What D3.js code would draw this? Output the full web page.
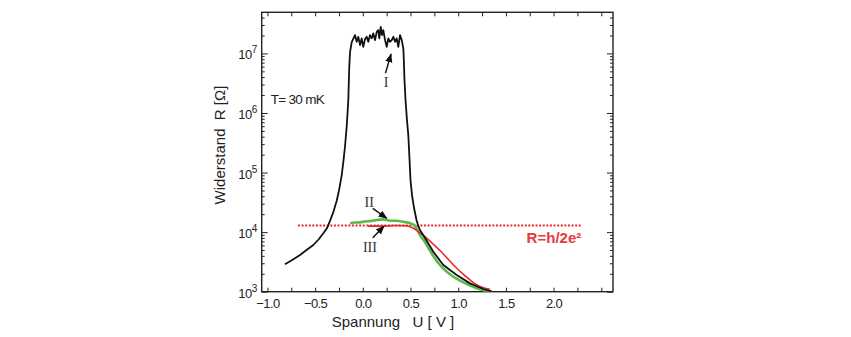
<!DOCTYPE html>
<html>
<head>
<meta charset="utf-8">
<script src="https://cdn.jsdelivr.net/npm/d3@7"></script>
<style>
  body { margin: 0; background: #fff; }
  text { font-family: "Liberation Sans", Arial, sans-serif; }
</style>
</head>
<body>
<div id="chart"></div>
<script>
// curve I: [U (V), R (Ohm)]
var curveI = [
  [-0.816, 2.88e3], [-0.740, 3.40e3], [-0.658, 4.13e3], [-0.590, 5.00e3],
  [-0.519, 6.08e3], [-0.464, 7.52e3], [-0.414, 9.55e3], [-0.375, 1.17e4],
  [-0.344, 1.54e4], [-0.309, 2.17e4], [-0.274, 3.33e4],
  [-0.249, 5.08e4], [-0.221, 9.08e4], [-0.202, 1.62e5], [-0.187, 2.71e5],
  [-0.169, 5.86e5], [-0.152, 1.64e6], [-0.142, 5.96e6], [-0.134, 1.05e7],
  [-0.116, 1.55e7], [-0.082, 2.03e7], [-0.064, 1.57e7], [-0.047, 1.90e7],
  [-0.029, 1.38e7], [-0.012, 1.79e7], [0.005, 1.29e7], [0.023, 1.74e7],
  [0.041, 1.90e7], [0.058, 1.57e7], [0.075, 2.03e7], [0.093, 1.79e7],
  [0.110, 2.17e7], [0.128, 1.67e7], [0.146, 2.30e7], [0.162, 2.46e7],
  [0.173, 1.79e7], [0.188, 2.79e7], [0.201, 2.03e7], [0.215, 2.46e7],
  [0.233, 1.67e7], [0.251, 1.29e7], [0.267, 1.79e7], [0.285, 1.57e7],
  [0.303, 1.67e7], [0.320, 1.90e7], [0.338, 1.57e7], [0.355, 1.79e7],
  [0.372, 1.29e7], [0.390, 2.03e7], [0.408, 1.67e7], [0.425, 1.21e7],
  [0.430, 7.73e6], [0.437, 3.56e6], [0.448, 1.64e6], [0.463, 7.60e5],
  [0.477, 4.26e5], [0.490, 1.62e5], [0.500, 7.48e4], [0.516, 4.19e4],
  [0.537, 2.54e4], [0.563, 1.60e4], [0.582, 1.26e4], [0.600, 1.08e4],
  [0.652, 7.96e3], [0.739, 4.69e3], [0.844, 2.81e3], [0.984, 1.91e3],
  [1.124, 1.38e3], [1.263, 1.11e3], [1.351, 1.01e3]
];

var curveII = [
  [-0.134, 1.41e4], [-0.082, 1.45e4], [-0.029, 1.46e4], [0.023, 1.51e4],
  [0.075, 1.53e4], [0.146, 1.60e4], [0.215, 1.64e4], [0.285, 1.55e4],
  [0.355, 1.55e4], [0.425, 1.49e4], [0.495, 1.41e4], [0.547, 1.28e4],
  [0.565, 1.13e4], [0.600, 8.93e3], [0.652, 6.82e3], [0.704, 4.91e3],
  [0.757, 3.61e3], [0.809, 2.81e3], [0.872, 2.22e3], [0.946, 1.80e3],
  [1.019, 1.54e3], [1.103, 1.32e3], [1.187, 1.15e3], [1.271, 1.05e3],
  [1.355, 0.99e3]
];

var curveIII = [
  [0.054, 1.26e4], [0.180, 1.26e4], [0.338, 1.29e4], [0.442, 1.28e4],
  [0.495, 1.23e4], [0.529, 1.16e4], [0.582, 1.02e4], [0.652, 8.43e3],
  [0.725, 6.56e3], [0.809, 4.91e3], [0.893, 3.54e3], [0.977, 2.55e3],
  [1.061, 1.91e3], [1.145, 1.48e3], [1.229, 1.22e3], [1.292, 1.13e3],
  [1.333, 1.10e3]
];

var quantumR = 12906;          // h/2e^2
var quantumSpan = [-0.68, 2.29];

var xTickLabels = [-1.0, -0.5, 0.0, 0.5, 1.0, 1.5, 2.0];
var xMinorTicks = [-1.0, -0.75, -0.5, -0.25, 0.0, 0.25, 0.5, 0.75, 1.0, 1.25, 1.5, 1.75, 2.0, 2.25, 2.5];
var yDecades = [1e3, 1e4, 1e5, 1e6, 1e7];

// label text, its anchor, arrow tail and head (U, R)
var annotations = [
  { label: "I",   at: [0.243, 2.69e6], from: [0.238, 4.67e6], to: [0.296, 9.73e6] },
  { label: "II",  at: [0.068, 2.67e4], from: [0.104, 2.51e4], to: [0.251, 1.71e4] },
  { label: "III", at: [0.075, 4.58e3], from: [0.104, 8.05e3], to: [0.222, 1.26e4] }
];

var margin = { top: 12.3, left: 261.7 };
var width = 351.3, height = 279.4;

var svg = d3.select("#chart").append("svg")
    .attr("width", 851)
    .attr("height", 337);

svg.append("rect").attr("width", 851).attr("height", 337).attr("fill", "#fff");

var g = svg.append("g")
    .attr("transform", "translate(" + margin.left + "," + margin.top + ")");

var x = d3.scaleLinear()
    .domain([-1.06, 2.623])
    .range([0, width]);

var y = d3.scaleLog()
    .domain([1e3, 4.9e7])
    .range([height, 0]);

svg.append("defs").append("clipPath").attr("id", "plot")
  .append("rect").attr("width", width).attr("height", height);

svg.select("defs").append("marker")
    .attr("id", "arrow")
    .attr("viewBox", "0 0 10 10")
    .attr("refX", 9).attr("refY", 5)
    .attr("markerWidth", 6).attr("markerHeight", 6)
    .attr("orient", "auto")
  .append("path")
    .attr("d", "M0,1 L10,5 L0,9 Z")
    .attr("fill", "#111");

// axes: ticks point inward on all four sides
function styleAxis(sel) {
  sel.select(".domain").remove();
  sel.selectAll(".tick line").attr("stroke", "#222").attr("stroke-width", 1);
}

g.append("g")
    .attr("transform", "translate(0," + height + ")")
    .call(d3.axisBottom(x).tickValues(xMinorTicks).tickSize(-4).tickFormat(""))
    .call(styleAxis);

g.append("g")
    .call(d3.axisTop(x).tickValues(xMinorTicks).tickSize(-4).tickFormat(""))
    .call(styleAxis);

g.append("g")
    .attr("transform", "translate(0," + height + ")")
    .call(d3.axisBottom(x).tickValues(xTickLabels).tickSize(0).tickPadding(7)
      .tickFormat(d3.format(".1f")))
    .call(styleAxis)
    .selectAll("text")
    .attr("font-size", "13px")
    .attr("letter-spacing", "-0.6px")
    .attr("fill", "#222");

var yMinor = y.ticks().filter(function(d) { return yDecades.indexOf(d) < 0; });

g.append("g")
    .call(d3.axisLeft(y).tickValues(yMinor).tickSize(-3).tickFormat(""))
    .call(styleAxis);

g.append("g")
    .attr("transform", "translate(" + width + ",0)")
    .call(d3.axisRight(y).tickValues(yMinor).tickSize(-3).tickFormat(""))
    .call(styleAxis);

g.append("g")
    .attr("transform", "translate(" + width + ",0)")
    .call(d3.axisRight(y).tickValues(yDecades).tickSize(-6).tickFormat(""))
    .call(styleAxis);

g.append("g")
    .call(d3.axisLeft(y).tickValues(yDecades).tickSize(-6).tickPadding(6))
    .call(styleAxis)
    .selectAll("text")
    .attr("font-size", "13px")
    .attr("letter-spacing", "-0.5px")
    .attr("fill", "#222")
    .attr("x", -5)
    .attr("dy", "0.42em")
    .each(function(d) {
      var t = d3.select(this).text("10");
      t.append("tspan")
        .attr("dy", "-0.6em")
        .attr("font-size", "10px")
        .text(Math.round(Math.log10(d)));
    });

// frame
g.append("rect")
    .attr("width", width)
    .attr("height", height)
    .attr("fill", "none")
    .attr("stroke", "#222")
    .attr("stroke-width", 1.4);

var line = d3.line()
    .x(function(d) { return x(d[0]); })
    .y(function(d) { return y(d[1]); });

var smooth = d3.line()
    .curve(d3.curveMonotoneX)
    .x(function(d) { return x(d[0]); })
    .y(function(d) { return y(d[1]); });

var plot = g.append("g").attr("clip-path", "url(#plot)");

plot.append("path")
    .datum([[quantumSpan[0], quantumR], [quantumSpan[1], quantumR]])
    .attr("d", line)
    .attr("fill", "none")
    .attr("stroke", "#e8262b")
    .attr("stroke-width", 2)
    .attr("stroke-dasharray", "2,1.6");

plot.append("path")
    .datum(curveII)
    .attr("d", smooth)
    .attr("fill", "none")
    .attr("stroke", "#5cb947")
    .attr("stroke-width", 2.6)
    .attr("stroke-linejoin", "round");

plot.append("path")
    .datum(curveIII)
    .attr("d", smooth)
    .attr("fill", "none")
    .attr("stroke", "#ea2a2a")
    .attr("stroke-width", 1.6);

plot.append("path")
    .datum(curveI)
    .attr("d", line)
    .attr("fill", "none")
    .attr("stroke", "#111")
    .attr("stroke-width", 1.8)
    .attr("stroke-linejoin", "round");

// annotations
annotations.forEach(function(a) {
  g.append("line")
      .attr("x1", x(a.from[0])).attr("y1", y(a.from[1]))
      .attr("x2", x(a.to[0])).attr("y2", y(a.to[1]))
      .attr("stroke", "#111")
      .attr("stroke-width", 1.5)
      .attr("marker-end", "url(#arrow)");
  g.append("text")
      .attr("x", x(a.at[0]))
      .attr("y", y(a.at[1]))
      .attr("text-anchor", "middle")
      .style("font-family", "'Liberation Serif', 'Times New Roman', serif")
      .attr("font-size", "14px")
      .attr("fill", "#333")
      .text(a.label);
});

g.append("text")
    .attr("x", x(quantumSpan[1]))
    .attr("y", y(quantumR) + 17.5)
    .attr("text-anchor", "end")
    .attr("font-size", "15px")
    .attr("font-weight", "bold")
    .attr("fill", "#e8383b")
    .text("R=h/2e\u00b2");

g.append("text")
    .attr("x", 9)
    .attr("y", 91.7)
    .attr("font-size", "13.5px")
    .attr("letter-spacing", "-0.7px")
    .attr("fill", "#222")
    .text("T= 30 mK");

// axis titles
svg.append("text")
    .attr("transform", "translate(225,145) rotate(-90)")
    .attr("text-anchor", "middle")
    .attr("font-size", "15px")
    .attr("fill", "#222")
    .style("white-space", "pre")
    .text("Widerstand  R [\u03a9]");

svg.append("text")
    .attr("x", 393)
    .attr("y", 327)
    .attr("text-anchor", "middle")
    .attr("font-size", "15px")
    .attr("fill", "#222")
    .style("white-space", "pre")
    .text("Spannung   U [ V ]");
</script>
</body>
</html>
